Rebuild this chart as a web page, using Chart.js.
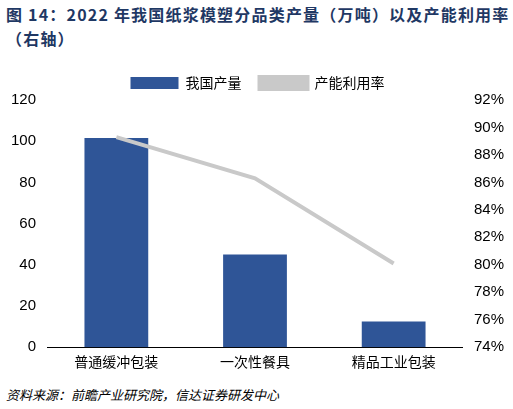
<!DOCTYPE html>
<html><head><meta charset="utf-8">
<script src="https://cdn.jsdelivr.net/npm/chart.js@4"></script>
<style>
body{margin:0;width:513px;height:409px;background:#fff;font-family:"Noto Sans CJK SC",sans-serif;overflow:hidden}
#t{position:absolute;left:6px;top:2px;width:505px;font-size:16px;font-weight:bold;line-height:24px;letter-spacing:1.2px;color:#1f3864}
#c{position:absolute;left:0;top:58px;width:513px;height:318px}
#s{position:absolute;left:6px;top:385px;font-size:13px;font-style:italic;color:#000}
</style></head><body>
<div id="t">图 14：2022 年我国纸浆模塑分品类产量（万吨）以及产能利用率（右轴）</div>
<div id="c"><canvas id="cv"></canvas></div>
<div id="s">资料来源：前瞻产业研究院，信达证券研发中心</div>
<script>
const categories=["普通缓冲包装","一次性餐具","精品工业包装"];
const output=[101.5,45,12.5];
const utilization=[89.3,86.3,80.1];
new Chart(document.getElementById('cv'),{
 data:{labels:categories,datasets:[
  {type:'line',label:'产能利用率',data:utilization,yAxisID:'y1',borderColor:'#C9C9C9',backgroundColor:'#C9C9C9',borderWidth:4,pointRadius:0,order:0},
  {type:'bar',label:'我国产量',data:output,yAxisID:'y',backgroundColor:'#2F5597',barPercentage:0.46,categoryPercentage:1,order:1}
 ]},
 options:{responsive:true,maintainAspectRatio:false,animation:false,
  layout:{padding:{left:8,right:6,top:0,bottom:0}},
  plugins:{legend:{reverse:true,labels:{font:{size:14,family:"Noto Sans CJK SC"},color:'#000',boxWidth:48,boxHeight:12,padding:18}},tooltip:{enabled:false}},
  scales:{
   x:{grid:{display:false,drawTicks:false},border:{color:'#000'},ticks:{font:{size:14,family:"Noto Sans CJK SC"},color:'#000',padding:6}},
   y:{min:0,max:120,ticks:{stepSize:20,font:{size:15},color:'#000'},grid:{display:false},border:{display:false}},
   y1:{position:'right',min:74,max:92,ticks:{stepSize:2,font:{size:15},color:'#000',callback:v=>v+'%'},grid:{display:false},border:{display:false}}
  }}
});
</script></body></html>
